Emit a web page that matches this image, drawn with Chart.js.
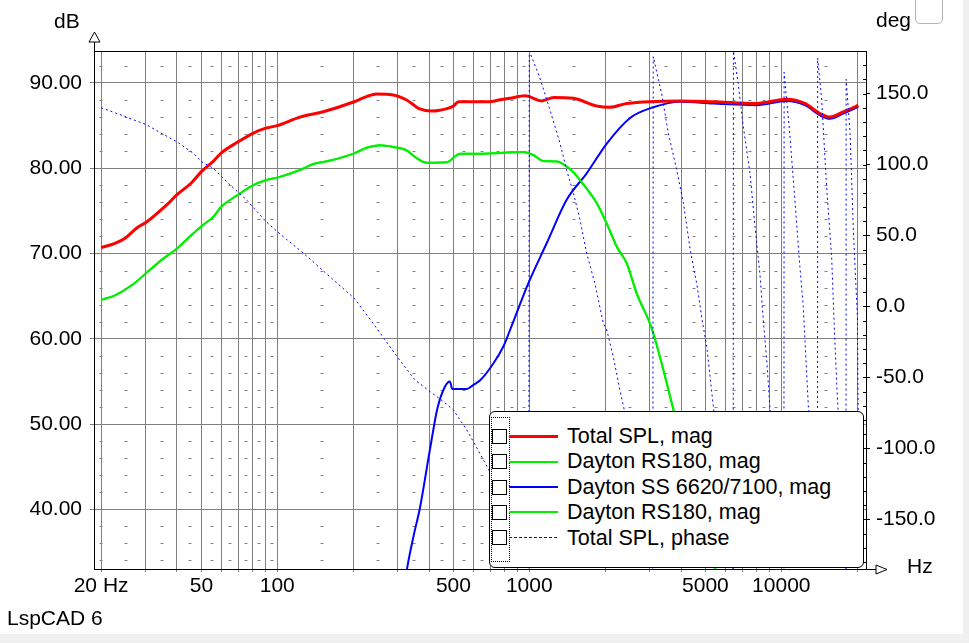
<!DOCTYPE html>
<html>
<head>
<meta charset="utf-8">
<script src="https://cdn.jsdelivr.net/npm/chart.js@4.4.1/dist/chart.umd.min.js"></script>
<style>
  html, body { margin: 0; padding: 0; background: #fff; }
  body { width: 969px; height: 643px; position: relative; overflow: hidden; font-family: 'Liberation Sans', Arial, sans-serif; color: #000; }
  #chart { position: absolute; left: 0; top: 0; }
  .lbl { position: absolute; font-size: 21px; line-height: 25px; white-space: nowrap; }
  .strip-r { position: absolute; left: 963px; top: 0; width: 6px; height: 643px; background: #f0f0f0; }
  .strip-b { position: absolute; left: 0; top: 634px; width: 969px; height: 9px; background: #f0f0f0; }
  .corner { position: absolute; left: 915px; top: -6px; width: 28px; height: 30px; box-sizing: border-box; border: 1px solid #b4b4b4; border-radius: 5px; background: #fff; }
  #legend { position: absolute; left: 489px; top: 411px; width: 375px; height: 157px; box-sizing: border-box; border: 1px solid #000; border-radius: 6px; background: #fff; }
  #legend .dots { position: absolute; left: 1px; top: 5px; width: 19px; height: 145px; box-sizing: border-box; border: 1px dotted #000; }
  #legend .box { position: absolute; left: 2px; width: 15px; height: 15px; box-sizing: border-box; border: 1px solid #000; background: #fff; }
  #legend .sample { position: absolute; left: 19px; width: 49px; }
  #legend .text { position: absolute; left: 77px; font-size: 21.5px; line-height: 25px; white-space: nowrap; }
</style>
</head>
<body>
<canvas id="chart" width="969" height="643"></canvas>
<div class="strip-r"></div>
<div class="strip-b"></div>
<div class="corner"></div>
<div class="lbl" style="left:54px; top:8px;">dB</div>
<div class="lbl" style="left:876px; top:7px;">deg</div>
<div class="lbl" style="left:907px; top:553px;">Hz</div>
<div class="lbl" style="left:7px; top:605px;">LspCAD 6</div>
<div id="legend"><div class="dots"></div></div>
<script>
// Total SPL magnitude (dB)
const totalFreq = [20, 22.7, 24.9, 27.7, 30.3, 36.4, 40, 45.7, 50, 55.7, 60, 70, 80, 90, 100, 123, 151, 202, 226, 248,
  288, 326, 368, 410, 441, 500, 523, 637, 698, 757, 838, 963, 1000, 1120, 1250, 1496, 1850, 2089, 2436, 3966,
  5370, 7985, 10500, 12400, 14250, 15600, 17600, 19900, 20200];
const totalDb = [70.7, 71.2, 71.8, 73.0, 73.7, 75.7, 76.9, 78.3, 79.6, 80.8, 81.8, 83.1, 84.1, 84.7, 85.0, 86.0, 86.6, 87.8, 88.4, 88.7,
  88.6, 88.0, 86.95, 86.7, 86.8, 87.3, 87.8, 87.8, 87.8, 88.0, 88.2, 88.5, 88.4, 87.9, 88.3, 88.2, 87.3, 87.15, 87.6, 87.9,
  87.8, 87.6, 88.1, 87.6, 86.4, 86.0, 86.6, 87.3, 87.4];

// Dayton RS180 magnitude (dB)
const wooferFreq = [20, 22.7, 26.8, 30.3, 35.3, 40, 45, 50, 55.7, 60, 70, 80, 90, 100, 123, 139, 162, 202, 226, 256,
  288, 326, 357, 392, 470, 531, 637, 765, 947, 1037, 1138, 1285, 1451, 1590, 1853, 2030, 2224, 2436, 2670, 3061,
  3720, 4000, 4500, 5000, 5600];
const wooferDb = [64.55, 65.1, 66.4, 67.75, 69.4, 70.6, 72.0, 73.2, 74.3, 75.5, 76.9, 78.0, 78.6, 78.9, 79.8, 80.5, 80.9, 81.75, 82.4, 82.7,
  82.5, 82.1, 81.2, 80.65, 80.7, 81.7, 81.7, 81.8, 81.9, 81.55, 80.85, 80.8, 79.9, 78.6, 75.9, 73.5, 70.8, 68.85, 65.3, 61.2,
  51.85, 48, 42, 37, 32];

// Dayton SS 6620/7100 magnitude (dB)
const tweeterFreq = [320, 328, 347, 369, 397, 416, 432, 463, 484, 495, 565, 600, 637, 720, 789, 838, 991, 1172, 1407, 1689,
  2030, 2512, 3106, 3966, 5370, 7985, 10500, 12400, 14250, 15600, 17600, 19900, 20200];
const tweeterDb = [31, 33.2, 36.8, 40.3, 45.8, 49.3, 51.85, 54.4, 55.0, 54.1, 54.1, 54.6, 55.1, 57.1, 59.1, 61.0, 66.5, 71.2, 76.3, 79.4,
  82.9, 85.9, 87.15, 87.8, 87.6, 87.4, 87.9, 87.4, 86.2, 85.8, 86.4, 87.1, 87.2];

// Total SPL phase (deg), wrapped
const phaseFreq = [20, 24.5, 30.3, 34.3, 40, 46.4, 50, 55.7, 65, 75.6, 90, 100, 127, 167, 202, 248, 302, 352, 404, 456,
  500, 565, 628, 700, 800, 900, 995, 1000, 1097, 1208, 1324, 1407, 1496, 1590, 1689, 1820, 1966, 2030, 2153, 2289,
  2500, 2750, 2950, 3090, 3104, 3350, 3563, 3848, 4087, 4350, 4618, 4877, 5058, 5370, 5700, 6100, 6440, 6460, 6745, 7063,
  7510, 7866, 8225, 8483, 8750, 9020, 9500, 10000, 10240, 10260, 10800, 11320, 11850, 12220, 12800, 13300, 13920, 13940, 14460, 15130,
  15840, 16230, 16590, 17200, 18060, 18080, 18750, 19330, 20040, 20150, 20250];
const phaseDeg = [140, 134.3, 128, 122.5, 116, 108, 102, 97.4, 85.6, 75, 60, 52.7, 37.5, 18.7, 5.8, -15.4, -36.5, -51.8, -60, -67,
  -73, -87, -101.6, -117, -138, -160, -185, 180, 162, 138.5, 115, 96, 80, 61, 37.5, 16.4, -11.8, -16.6, -35.4, -58.9,
  -90, -125, -155, -185, 176, 150, 122, 96, 73, 40, 16, -12, -28, -70, -110, -150, -185, 180, 157, 127,
  94, 56, 23, -9.5, -38, -72, -115, -160, -185, 165, 122, 75, 28, 0, -70, -120, -185, 175, 146, 84,
  35, -15, -54, -110, -185, 160, 122, 52, -7, -60, -100];

// axes
const gridFreqs = [20, 30, 40, 50, 60, 70, 80, 90, 100, 200, 300, 400, 500, 600, 700, 800, 900,
  1000, 2000, 3000, 4000, 5000, 6000, 7000, 8000, 9000, 10000, 20000];
const freqLabels = [20, 50, 100, 500, 1000, 5000, 10000];
const dbTicks = [40, 50, 60, 70, 80, 90];
const degLabels = [-150, -100, -50, 0, 50, 100, 150];

const GRID = '#808080';

function pts(fs, vs) {
  return fs.map((f, i) => ({ x: f, y: vs[i] }));
}

const degTicks = [];
for (let v = -180; v <= 180; v += 10) degTicks.push(v);

const axisDecor = {
  id: 'axisDecor',
  beforeDatasetsDraw(chart) {
    // short dashes of the 2 dB minor grid
    const { ctx, chartArea: a, scales: { x, y } } = chart;
    const xs = [gridFreqs[0]];
    for (let i = 0; i < gridFreqs.length - 1; i++) xs.push((gridFreqs[i] + gridFreqs[i + 1]) / 2);
    ctx.save();
    ctx.strokeStyle = GRID;
    ctx.lineWidth = 1;
    ctx.beginPath();
    for (let v = 34; v < 94; v += 2) {
      if (v % 10 === 0) continue;
      const py = Math.round(y.getPixelForValue(v)) + 0.5;
      xs.forEach(f => {
        const px = Math.round(x.getPixelForValue(f));
        if (px < a.left || px > a.right) return;
        ctx.moveTo(px - 1.5, py);
        ctx.lineTo(px + 1.5, py);
      });
    }
    ctx.stroke();
    ctx.restore();
  },
  afterDatasetsDraw(chart) {
    const { ctx, chartArea: a, scales: { y1 } } = chart;
    ctx.save();
    ctx.strokeStyle = '#000';
    ctx.lineWidth = 1;
    ctx.strokeRect(a.left + 0.5, a.top + 0.5, a.right - a.left, a.bottom - a.top);
    ctx.beginPath();
    degTicks.forEach(v => {
      const py = Math.round(y1.getPixelForValue(v)) + 0.5;
      if (py < a.top || py > a.bottom) return;
      ctx.moveTo(a.right - 3, py);
      ctx.lineTo(a.right, py);
    });
    ctx.moveTo(a.left + 0.5, a.top);
    ctx.lineTo(a.left + 0.5, a.top - 9);
    ctx.moveTo(a.right, a.bottom + 0.5);
    ctx.lineTo(a.right + 10, a.bottom + 0.5);
    ctx.stroke();
    // arrow heads
    ctx.fillStyle = '#fff';
    ctx.beginPath();
    ctx.moveTo(a.left + 0.5, a.top - 19);
    ctx.lineTo(a.left - 5, a.top - 9);
    ctx.lineTo(a.left + 6, a.top - 9);
    ctx.closePath();
    ctx.fill();
    ctx.stroke();
    ctx.beginPath();
    ctx.moveTo(a.right + 21, a.bottom + 0.5);
    ctx.lineTo(a.right + 10, a.bottom - 4);
    ctx.lineTo(a.right + 10, a.bottom + 5);
    ctx.closePath();
    ctx.fill();
    ctx.stroke();
    ctx.restore();
  }
};

Chart.defaults.font.family = "'Liberation Sans', Arial, sans-serif";
Chart.defaults.font.size = 21;
Chart.defaults.color = '#000';

const datasets = [
  { label: 'Total SPL, mag', data: pts(totalFreq, totalDb), borderColor: '#ff0000', borderWidth: 3, yAxisID: 'y', order: 1,
    legendWidth: 3 },
  { label: 'Dayton RS180, mag', data: pts(wooferFreq, wooferDb), borderColor: '#00f000', borderWidth: 2, yAxisID: 'y', order: 2,
    legendWidth: 2 },
  { label: 'Dayton SS 6620/7100, mag', data: pts(tweeterFreq, tweeterDb), borderColor: '#0000ff', borderWidth: 2, yAxisID: 'y', order: 3,
    legendWidth: 2 },
  { label: 'Dayton RS180, mag', data: pts(wooferFreq, wooferDb), borderColor: '#00f000', borderWidth: 2, yAxisID: 'y', order: 4,
    legendWidth: 2 },
  { label: 'Total SPL, phase', data: pts(phaseFreq, phaseDeg), borderColor: '#0000ff', borderWidth: 1, borderDash: [2, 3],
    yAxisID: 'y1', order: 0, tension: 0, cubicInterpolationMode: 'default', legendWidth: 1, dashed: true },
];

new Chart(document.getElementById('chart'), {
  type: 'line',
  data: { datasets },
  options: {
    responsive: false,
    animation: false,
    devicePixelRatio: 1,
    layout: { padding: { top: 51, left: 0, right: 0, bottom: 0 } },
    elements: {
      point: { radius: 0 },
      line: { cubicInterpolationMode: 'monotone', fill: false },
    },
    plugins: { legend: { display: false }, tooltip: { enabled: false } },
    scales: {
      x: {
        type: 'logarithmic',
        min: 18.74,
        max: 21680,
        afterBuildTicks(scale) { scale.ticks = gridFreqs.map(v => ({ value: v })); },
        afterFit(scale) { scale.height = 74; },
        grid: { color: GRID, tickLength: 3, tickColor: GRID },
        border: { display: false },
        ticks: {
          autoSkip: false,
          maxRotation: 0,
          padding: 2,
          callback(value) {
            if (!freqLabels.includes(value)) return '';
            return value === 20 ? '20 Hz' : String(value);
          },
        },
      },
      y: {
        position: 'left',
        min: 33,
        max: 93.75,
        afterBuildTicks(scale) { scale.ticks = dbTicks.map(v => ({ value: v })); },
        afterFit(scale) { scale.width = 94; },
        grid: { color: GRID, tickLength: 4, tickColor: GRID },
        border: { display: false },
        ticks: { padding: 8, callback: v => v.toFixed(2) },
      },
      y1: {
        position: 'right',
        min: -185,
        max: 180,
        afterBuildTicks(scale) { scale.ticks = degLabels.map(v => ({ value: v })); },
        afterFit(scale) { scale.width = 103; },
        grid: { drawOnChartArea: false, tickLength: 4, tickColor: '#000' },
        border: { display: false },
        ticks: { padding: 6, callback: v => v.toFixed(1) },
      },
    },
  },
  plugins: [axisDecor],
});

// legend, built from the datasets
const legend = document.getElementById('legend');
datasets.forEach((ds, i) => {
  const cy = 24.3 + i * 25.4;
  const box = document.createElement('div');
  box.className = 'box';
  box.style.top = (cy - 7.5) + 'px';
  legend.appendChild(box);
  const s = document.createElement('div');
  s.className = 'sample';
  s.style.top = Math.round(cy - ds.legendWidth / 2) + 'px';
  s.style.height = ds.legendWidth + 'px';
  s.style.background = ds.dashed
    ? 'repeating-linear-gradient(to right, ' + ds.borderColor + ' 0 3px, transparent 3px 5px)'
    : ds.borderColor;
  legend.appendChild(s);
  const t = document.createElement('div');
  t.className = 'text';
  t.style.top = (cy - 12.3) + 'px';
  t.textContent = ds.label;
  legend.appendChild(t);
});
</script>
</body>
</html>
